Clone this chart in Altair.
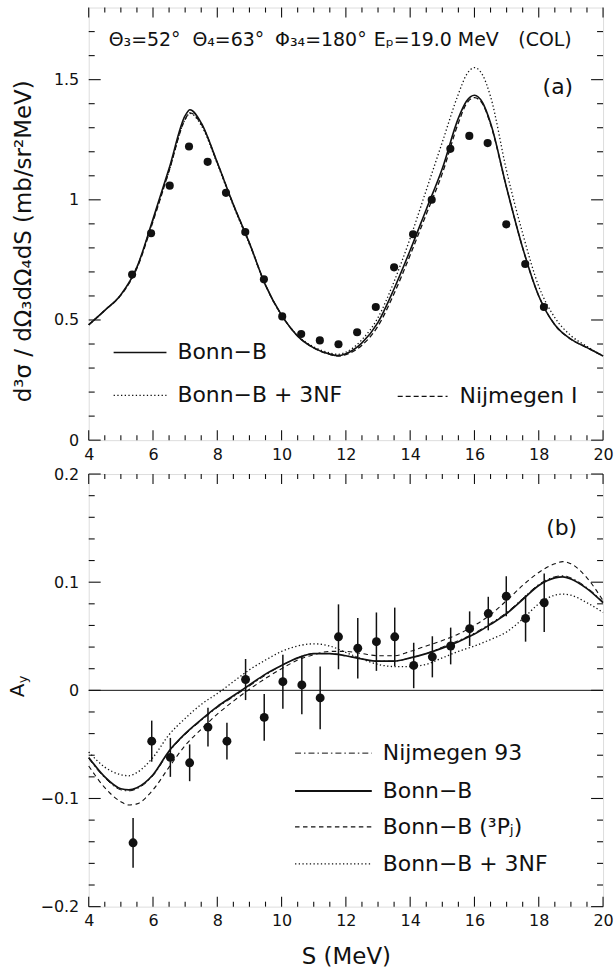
import altair as alt
import pandas as pd

# ---------------- panel (a): cross section ----------------
S_curve_a = [4.0, 4.5, 5.0, 5.5, 6.0, 6.5, 7.0, 7.15, 7.5, 8.0, 8.5, 9.0, 9.5, 10.0, 10.5, 11.0,
             11.5, 11.75, 12.0, 12.5, 13.0, 13.5, 14.0, 14.5, 15.0, 15.5, 15.75, 16.0, 16.25,
             16.5, 17.0, 17.5, 18.0, 18.5, 19.0, 19.5, 20.0]
bonn_b_a = [0.48, 0.54, 0.605, 0.72, 0.92, 1.13, 1.35, 1.375, 1.32, 1.155, 0.98, 0.82, 0.645,
            0.52, 0.433, 0.384, 0.358, 0.352, 0.36, 0.405, 0.49, 0.63, 0.79, 0.96, 1.13, 1.34,
            1.41, 1.435, 1.405, 1.32, 1.05, 0.80, 0.60, 0.48, 0.42, 0.385, 0.35]
bonn_b_3nf_a = [0.48, 0.54, 0.605, 0.72, 0.915, 1.12, 1.335, 1.36, 1.31, 1.15, 0.975, 0.815,
                0.645, 0.52, 0.435, 0.388, 0.363, 0.357, 0.366, 0.418, 0.51, 0.66, 0.84, 1.04,
                1.24, 1.44, 1.52, 1.55, 1.52, 1.43, 1.12, 0.86, 0.64, 0.51, 0.435, 0.39, 0.35]
nijmegen_I_a = [0.48, 0.54, 0.603, 0.715, 0.91, 1.12, 1.335, 1.362, 1.315, 1.155, 0.98, 0.82,
                0.645, 0.52, 0.433, 0.384, 0.357, 0.35, 0.356, 0.395, 0.475, 0.61, 0.77, 0.94,
                1.11, 1.32, 1.40, 1.425, 1.40, 1.315, 1.05, 0.80, 0.60, 0.48, 0.42, 0.385, 0.35]
S_data_a = [5.35, 5.94, 6.52, 7.12, 7.70, 8.27, 8.87, 9.45, 10.02, 10.61, 11.19, 11.77, 12.35,
            12.93, 13.50, 14.09, 14.67, 15.25, 15.84, 16.41, 16.99, 17.58, 18.16]
xsec_data = [0.689, 0.861, 1.059, 1.222, 1.158, 1.029, 0.866, 0.669, 0.515, 0.442, 0.415, 0.399,
             0.449, 0.554, 0.719, 0.857, 1.0, 1.212, 1.266, 1.236, 0.898, 0.733, 0.554]

# ---------------- panel (b): analyzing power ----------------
S_curve_b = [4.0, 4.5, 5.0, 5.25, 5.5, 6.0, 6.5, 7.0, 7.5, 8.0, 8.5, 9.0, 9.5, 10.0, 10.5, 11.0,
             11.5, 12.0, 12.5, 13.0, 13.5, 14.0, 14.5, 15.0, 15.5, 16.0, 16.5, 17.0, 17.5, 18.0,
             18.5, 18.75, 19.0, 19.5, 20.0]
nijmegen93_b = [-0.063, -0.081, -0.092, -0.093, -0.091, -0.079, -0.057, -0.041, -0.028, -0.016,
                -0.006, 0.004, 0.014, 0.023, 0.030, 0.034, 0.034, 0.032, 0.029, 0.027, 0.027,
                0.030, 0.034, 0.040, 0.046, 0.053, 0.062, 0.072, 0.085, 0.098, 0.105, 0.106,
                0.104, 0.095, 0.082]
bonn_b_b = [-0.062, -0.080, -0.091, -0.092, -0.090, -0.078, -0.056, -0.040, -0.027, -0.015,
            -0.005, 0.005, 0.015, 0.023, 0.030, 0.034, 0.034, 0.032, 0.029, 0.027, 0.027, 0.030,
            0.034, 0.039, 0.045, 0.052, 0.061, 0.071, 0.084, 0.097, 0.104, 0.105, 0.103, 0.094,
            0.081]
bonn_b_3pj_b = [-0.070, -0.090, -0.103, -0.106, -0.105, -0.092, -0.071, -0.051, -0.036, -0.022,
                -0.010, 0.001, 0.011, 0.020, 0.028, 0.033, 0.036, 0.036, 0.034, 0.032, 0.032,
                0.036, 0.041, 0.046, 0.052, 0.060, 0.070, 0.083, 0.097, 0.109, 0.117, 0.119,
                0.117, 0.104, 0.083]
bonn_b_3nf_b = [-0.057, -0.071, -0.078, -0.079, -0.076, -0.062, -0.041, -0.026, -0.013, -0.003,
                0.008, 0.019, 0.028, 0.036, 0.041, 0.043, 0.041, 0.035, 0.029, 0.024, 0.022,
                0.022, 0.024, 0.030, 0.036, 0.041, 0.047, 0.054, 0.066, 0.080, 0.088, 0.089,
                0.088, 0.081, 0.072]
S_data_b = [5.38, 5.96, 6.54, 7.14, 7.71, 8.30, 8.88, 9.46, 10.04, 10.63, 11.20, 11.77, 12.37,
            12.95, 13.52, 14.11, 14.69, 15.26, 15.85, 16.43, 16.99, 17.59, 18.17]
ay_data = [-0.141, -0.047, -0.062, -0.067, -0.034, -0.047, 0.010, -0.025, 0.008, 0.005, -0.007,
           0.0495, 0.039, 0.045, 0.0495, 0.023, 0.031, 0.041, 0.057, 0.071, 0.087, 0.0665, 0.081]
ay_err = [0.023, 0.019, 0.018, 0.017, 0.018, 0.017, 0.019, 0.0215, 0.025, 0.027, 0.029, 0.030,
          0.028, 0.027, 0.027, 0.021, 0.019, 0.017, 0.016, 0.0155, 0.0185, 0.0215, 0.027]

# ---------------- ticks ----------------
x_major = [4, 6, 8, 10, 12, 14, 16, 18, 20]
x_minor = [v / 2 for v in range(9, 40) if v % 4 != 0]
ya_major = [0, 0.5, 1, 1.5]
ya_minor = [round(v / 10, 2) for v in range(1, 18) if v % 5 != 0]
yb_major = [-0.2, -0.1, 0, 0.1, 0.2]
yb_minor = [round(v / 50, 3) for v in range(-9, 10) if v % 5 != 0]

W, H = 516, 434
PAD_L, PAD_T, PAD_R, PAD_B, GAP = 88, 5, 12, 64, 34
INK = "#111111"
FONT = "DejaVu Sans"
LEG = 22

xscale = alt.Scale(domain=[4, 20], nice=False, zero=False)
ys_a = alt.Scale(domain=[0, 1.8], nice=False, zero=False)
ys_b = alt.Scale(domain=[-0.2, 0.2], nice=False, zero=False)


def x_axis(title):
    kw = dict(values=x_major, ticks=False, domain=False, grid=False, format="~g",
              labelFontSize=16, labelPadding=6, labelColor=INK, labelFont=FONT,
              labelFlush=False, titleFont=FONT, titleColor=INK, titleFontWeight="normal")
    if title:
        kw.update(title=title, titleFontSize=23, titlePadding=17)
    else:
        kw.update(title=None)
    return alt.Axis(**kw)


def y_axis(values, title):
    kw = dict(values=values, ticks=False, domain=False, grid=False, format="~g",
              labelFontSize=16, labelPadding=10, labelColor=INK, labelFont=FONT,
              labelFlush=False, titleFont=FONT, titleColor=INK, titleFontWeight="normal")
    if title:
        kw.update(title=title, titleFontSize=23, titlePadding=18, titleY=234)
    else:
        kw.update(title=None)
    return alt.Axis(**kw)


def tick_layers(yscale, xax, yax, ymajor, yminor):
    layers = []
    for vals, L in [(x_major, 10), (x_minor, 5)]:
        df = pd.DataFrame({"v": vals})
        base = alt.Chart(df).mark_rule(color=INK, strokeWidth=1.1)
        layers.append(base.encode(x=alt.X("v:Q", scale=xscale, axis=xax),
                                  y=alt.value(H), y2=alt.value(H - L)))
        layers.append(base.encode(x=alt.X("v:Q", scale=xscale, axis=xax),
                                  y=alt.value(0), y2=alt.value(L)))
    for vals, L in [(ymajor, 12), (yminor, 6)]:
        df = pd.DataFrame({"v": vals})
        base = alt.Chart(df).mark_rule(color=INK, strokeWidth=1.1)
        layers.append(base.encode(y=alt.Y("v:Q", scale=yscale, axis=yax),
                                  x=alt.value(0), x2=alt.value(L)))
        layers.append(base.encode(y=alt.Y("v:Q", scale=yscale, axis=yax),
                                  x=alt.value(W), x2=alt.value(W - L)))
    return layers


dummy = pd.DataFrame({"d": [0]})


def label(text, x, y, size=LEG, align="left"):
    return alt.Chart(dummy).mark_text(font=FONT, fontSize=size, color=INK, align=align,
                                      baseline="middle").encode(
        x=alt.value(x), y=alt.value(y), text=alt.value(text))


def vlabel(text, x, y, size):
    return alt.Chart(dummy).mark_text(font=FONT, fontSize=size, color=INK, align="center",
                                      baseline="middle").encode(
        x=alt.value(x), y=alt.value(y), text=alt.value(text), angle=alt.value(270))


def leg_line(x1, x2, y, dash=None, width=1.4):
    kw = dict(color=INK, strokeWidth=width)
    if dash:
        kw["strokeDash"] = dash
    return alt.Chart(dummy).mark_rule(**kw).encode(
        x=alt.value(x1), x2=alt.value(x2), y=alt.value(y))


def frame_guide(y):
    # invisible guide fixing the outer extent of the canvas
    return alt.Chart(dummy).mark_rule(color="white", strokeWidth=0.01, opacity=0).encode(
        x=alt.value(-PAD_L), x2=alt.value(W + PAD_R), y=alt.value(y))


def curve(S, vals, yscale, xax, yax, dash=None, width=1.4):
    kw = dict(color=INK, strokeWidth=width, interpolate="monotone")
    if dash:
        kw["strokeDash"] = dash
    return alt.Chart(pd.DataFrame({"S": S, "v": vals})).mark_line(**kw).encode(
        x=alt.X("S:Q", scale=xscale, axis=xax), y=alt.Y("v:Q", scale=yscale, axis=yax))


DOT = [1.3, 2.4]
DASH_A = [5, 3]

# ---------- top panel ----------
xa_ax = x_axis(None)
ya_ax = y_axis(ya_major, "d³σ / dΩ₃dΩ₄dS   (mb/sr²MeV)")
top_layers = [
    curve(S_curve_a, bonn_b_3nf_a, ys_a, xa_ax, ya_ax, dash=DOT, width=1.3),
    curve(S_curve_a, nijmegen_I_a, ys_a, xa_ax, ya_ax, dash=DASH_A, width=1.3),
    curve(S_curve_a, bonn_b_a, ys_a, xa_ax, ya_ax, width=1.6),
    alt.Chart(pd.DataFrame({"S": S_data_a, "v": xsec_data})).mark_circle(
        size=66, color=INK, opacity=1).encode(
        x=alt.X("S:Q", scale=xscale, axis=xa_ax), y=alt.Y("v:Q", scale=ys_a, axis=ya_ax)),
] + tick_layers(ys_a, xa_ax, ya_ax, ya_major, ya_minor) + [
    label("Θ₃=52°", 20, 33, size=19),
    label("Θ₄=63°", 104, 33, size=19),
    label("Φ₃₄=180°", 187, 33, size=19),
    label("Eₚ=19.0 MeV", 286, 33, size=19),
    label("(COL)", 431, 33, size=19),
    label("(a)", 486, 80, size=22, align="right"),
    leg_line(25, 78, 346, width=1.5),
    label("Bonn−B", 89, 346),
    leg_line(25, 78, 389, dash=DOT, width=1.3),
    label("Bonn−B + 3NF", 89, 389),
    leg_line(310, 360, 390, dash=DASH_A, width=1.3),
    label("Nijmegen I", 372, 390),
    frame_guide(-PAD_T),
]
top = alt.layer(*top_layers).properties(width=W, height=H)

# ---------- bottom panel ----------
xb_ax = x_axis("S  (MeV)")
yb_ax = y_axis(yb_major, None)
DASH_B = [4.5, 3.5]
DASHDOT = [6, 3, 1.5, 3]
df_err = pd.DataFrame({"S": S_data_b, "v": ay_data, "e": ay_err})
df_err["lo"] = df_err["v"] - df_err["e"]
df_err["hi"] = df_err["v"] + df_err["e"]

bot_layers = [
    alt.Chart(pd.DataFrame({"z": [0]})).mark_rule(color=INK, strokeWidth=1).encode(
        y=alt.Y("z:Q", scale=ys_b, axis=yb_ax)),
    curve(S_curve_b, bonn_b_3nf_b, ys_b, xb_ax, yb_ax, dash=DOT, width=1.3),
    curve(S_curve_b, bonn_b_3pj_b, ys_b, xb_ax, yb_ax, dash=DASH_B, width=1.1),
    curve(S_curve_b, nijmegen93_b, ys_b, xb_ax, yb_ax, dash=DASHDOT, width=1.0),
    curve(S_curve_b, bonn_b_b, ys_b, xb_ax, yb_ax, width=1.7),
    alt.Chart(df_err).mark_rule(color=INK, strokeWidth=1.5).encode(
        x=alt.X("S:Q", scale=xscale, axis=xb_ax), y=alt.Y("lo:Q", scale=ys_b, axis=yb_ax),
        y2="hi:Q"),
    alt.Chart(df_err).mark_circle(size=80, color=INK, opacity=1).encode(
        x=alt.X("S:Q", scale=xscale, axis=xb_ax), y=alt.Y("v:Q", scale=ys_b, axis=yb_ax)),
] + tick_layers(ys_b, xb_ax, yb_ax, yb_major, yb_minor) + [
    label("(b)", 490, 54, size=22, align="right"),
    leg_line(207, 284, 280, dash=DASHDOT, width=1.0),
    label("Nijmegen 93", 295, 280),
    leg_line(207, 284, 318, width=1.8),
    label("Bonn−B", 295, 318),
    leg_line(207, 284, 354, dash=DASH_B, width=1.1),
    label("Bonn−B (³Pⱼ)", 295, 354),
    leg_line(207, 284, 391, dash=DOT, width=1.3),
    label("Bonn−B + 3NF", 295, 391),
    vlabel("A", -71, 217, 20),
    vlabel("y", -66, 206, 13),
    frame_guide(H + PAD_B),
]
bottom = alt.layer(*bot_layers).properties(width=W, height=H)

chart = alt.vconcat(top, bottom, spacing=GAP, bounds="flush").properties(
    padding=0,
    background="white",
).configure_view(stroke=INK, strokeWidth=1.2).configure(font=FONT)

chart.save("out.html", embed_options={"renderer": "svg", "actions": False})
